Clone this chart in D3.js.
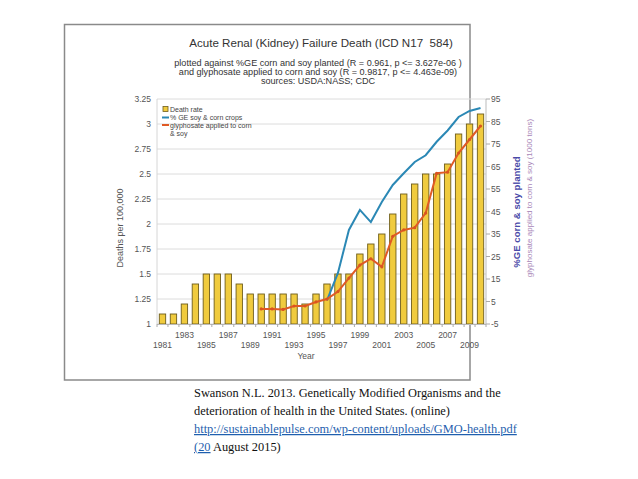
<!DOCTYPE html>
<html><head><meta charset="utf-8">
<script src="https://cdn.jsdelivr.net/npm/d3@7"></script>
<style>body{margin:0;background:#fff}svg{display:block}text{white-space:pre}</style>
</head><body>
<script>
const years = d3.range(1981, 2011);
const deathRate = [1.1,1.1,1.2,1.4,1.5,1.5,1.5,1.4,1.3,1.3,1.3,1.3,1.3,1.2,1.3,1.4,1.5,1.5,1.7,1.8,1.9,2.1,2.3,2.4,2.5,2.5,2.6,2.9,3.0,3.1];
const geYears = d3.range(1996, 2011);
const geCrops = [5.5,17.7,36.8,45.7,40.3,49.2,56.8,62,67,70,76,81,87,89.7,91];
const glyYears = d3.range(1990, 2011);
const glyphosate = [1.7,1.7,1.5,3,3,4.8,6.1,9.4,15.4,21.2,24,20.4,34,36.8,37.8,44.3,62,62.5,71,77,83];
const leftTicks = [1,1.25,1.5,1.75,2,2.25,2.5,2.75,3,3.25];
const rightTicks = [-5,5,15,25,35,45,55,65,75,85,95];
const xTickYears = d3.range(1981, 2011, 2);

const W=638,H=479;
const svg=d3.select("body").append("svg").attr("width",W).attr("height",H);
const font="Liberation Sans, Arial, sans-serif";

svg.append("rect").attr("x",64.5).attr("y",24.5).attr("width",405.5).attr("height",355.5)
  .attr("fill","#fff").attr("stroke","#8a8a8a").attr("stroke-width",1.5);

const L=157,R=486,T=99,B=324;
const x=d3.scaleBand().domain(years).range([L,R]).paddingInner(0.42).paddingOuter(0.21);
const yL=d3.scaleLinear().domain([1,3.25]).range([B,T]);
const yR=d3.scaleLinear().domain([-5,95]).range([B,T]);
const cx=d=>x(d)+x.bandwidth()/2;

// grid
svg.append("g").selectAll("line").data(leftTicks).join("line")
  .attr("x1",L).attr("x2",R).attr("y1",d=>yL(d)).attr("y2",d=>yL(d))
  .attr("stroke","#dcdcdc").attr("stroke-width",1);
svg.append("line").attr("x1",L).attr("x2",L).attr("y1",T).attr("y2",B).attr("stroke","#d6d6d6");
svg.append("line").attr("x1",R).attr("x2",R).attr("y1",T).attr("y2",B).attr("stroke","#bbb");

// left labels
svg.append("g").selectAll("text").data(leftTicks).join("text")
  .attr("x",151).attr("y",d=>yL(d)+3).attr("text-anchor","end")
  .attr("font-family",font).attr("font-size",8.5).attr("fill","#555").text(d=>d);

// right ticks
const rg=svg.append("g");
rg.selectAll("line").data(rightTicks).join("line")
  .attr("x1",R).attr("x2",R+4).attr("y1",d=>yR(d)).attr("y2",d=>yR(d)).attr("stroke","#aaa");
rg.selectAll("text").data(rightTicks).join("text")
  .attr("x",R+5).attr("y",d=>yR(d)+3).attr("font-family",font).attr("font-size",8.5).attr("fill","#555").text(d=>d);

// bars
svg.append("g").selectAll("rect").data(years).join("rect")
  .attr("x",d=>x(d)).attr("width",x.bandwidth())
  .attr("y",(d,i)=>yL(deathRate[i])).attr("height",(d,i)=>B-yL(deathRate[i]))
  .attr("fill","#f0cb3e").attr("stroke","#6e5d1c").attr("stroke-width",0.9);

// x axis
svg.append("line").attr("x1",L).attr("x2",R).attr("y1",B+0.5).attr("y2",B+0.5).attr("stroke","#bbb");
svg.append("g").selectAll("line").data(years.concat([2011])).join("line")
  .attr("x1",(d,i)=>L+i*x.step()).attr("x2",(d,i)=>L+i*x.step())
  .attr("y1",B).attr("y2",B+3).attr("stroke","#aaa");
svg.append("g").selectAll("text").data(xTickYears).join("text")
  .attr("x",d=>cx(d)).attr("y",(d,i)=>i%2===1?338:348).attr("text-anchor","middle")
  .attr("font-family",font).attr("font-size",8.5).attr("fill","#555").text(d=>d);
svg.append("text").attr("x",306).attr("y",359).attr("text-anchor","middle")
  .attr("font-family",font).attr("font-size",8.5).attr("fill","#555").text("Year");

// lines
const lineGE=d3.line().x((d,i)=>cx(geYears[i])).y(d=>yR(d));
svg.append("path").attr("d",lineGE(geCrops)).attr("fill","none").attr("stroke","#2b88b5").attr("stroke-width",2);
const lineGly=d3.line().x((d,i)=>cx(glyYears[i])).y(d=>yR(d));
svg.append("path").attr("d",lineGly(glyphosate)).attr("fill","none").attr("stroke","#e05a25").attr("stroke-width",2);
svg.append("g").selectAll("circle").data(glyphosate).join("circle")
  .attr("cx",(d,i)=>cx(glyYears[i])).attr("cy",d=>yR(d)).attr("r",1.6).attr("fill","#d9541f");

// axis titles
svg.append("text").attr("transform","translate(123,228) rotate(-90)").attr("text-anchor","middle")
  .attr("font-family",font).attr("font-size",9).attr("fill","#555").text("Deaths per 100,000");
svg.append("text").attr("transform","translate(520,212) rotate(-90)").attr("text-anchor","middle")
  .attr("font-family",font).attr("font-size",9.6).attr("font-weight","bold").attr("fill","#4a4aa8").text("%GE corn & soy planted");
svg.append("text").attr("transform","translate(532,198) rotate(-90)").attr("text-anchor","middle")
  .attr("font-family",font).attr("font-size",8).attr("fill","#a987b8").text("glyphosate applied to corn & soy (1000 tons)");

// legend
const lg=svg.append("g").attr("font-family",font).attr("font-size",7).attr("fill","#444");
lg.append("rect").attr("x",163).attr("y",106.5).attr("width",5).attr("height",5).attr("fill","#f0cb3e").attr("stroke","#6e5d1c").attr("stroke-width",0.8);
lg.append("text").attr("x",170).attr("y",111.5).text("Death rate");
lg.append("line").attr("x1",162).attr("x2",169).attr("y1",117.5).attr("y2",117.5).attr("stroke","#2b88b5").attr("stroke-width",2);
lg.append("text").attr("x",170).attr("y",120).text("% GE soy & corn crops");
lg.append("line").attr("x1",162).attr("x2",169).attr("y1",125).attr("y2",125).attr("stroke","#e05a25").attr("stroke-width",2);
lg.append("text").attr("x",170).attr("y",127.5).text("glyphosate applied to corn");
lg.append("text").attr("x",170).attr("y",135.5).text("& soy");

// titles
svg.append("text").attr("x",321).attr("y",47).attr("text-anchor","middle")
  .attr("font-family",font).attr("font-size",11.6).attr("fill","#333").text("Acute Renal (Kidney) Failure Death (ICD N17  584)");
const sub=["plotted against %GE corn and soy planted (R = 0.961, p <= 3.627e-06 )","and glyphosate applied to corn and soy (R = 0.9817, p <= 4.463e-09)","sources: USDA:NASS; CDC"];
svg.append("g").selectAll("text").data(sub).join("text")
  .attr("x",318).attr("y",(d,i)=>66+i*9).attr("text-anchor","middle")
  .attr("font-family",font).attr("font-size",9.1).attr("fill","#333").text(d=>d);

// footer
const serif="Liberation Serif, Times New Roman, serif";
const ft=svg.append("g").attr("font-family",serif).attr("font-size",12.4);
ft.append("text").attr("x",194).attr("y",397).attr("fill","#111").text("Swanson N.L. 2013. Genetically Modified Organisms and the");
ft.append("text").attr("x",194).attr("y",415).attr("fill","#111").text("deterioration of health in the United States. (online)");
ft.append("text").attr("x",194).attr("y",433).attr("fill","#1f5fae").attr("text-decoration","underline").text("http://sustainablepulse.com/wp-content/uploads/GMO-health.pdf");
const l4=ft.append("text").attr("x",194).attr("y",451).attr("fill","#111");
l4.append("tspan").attr("fill","#1f5fae").attr("text-decoration","underline").text("(20");
l4.append("tspan").text(" August 2015)");
</script>
</body></html>
